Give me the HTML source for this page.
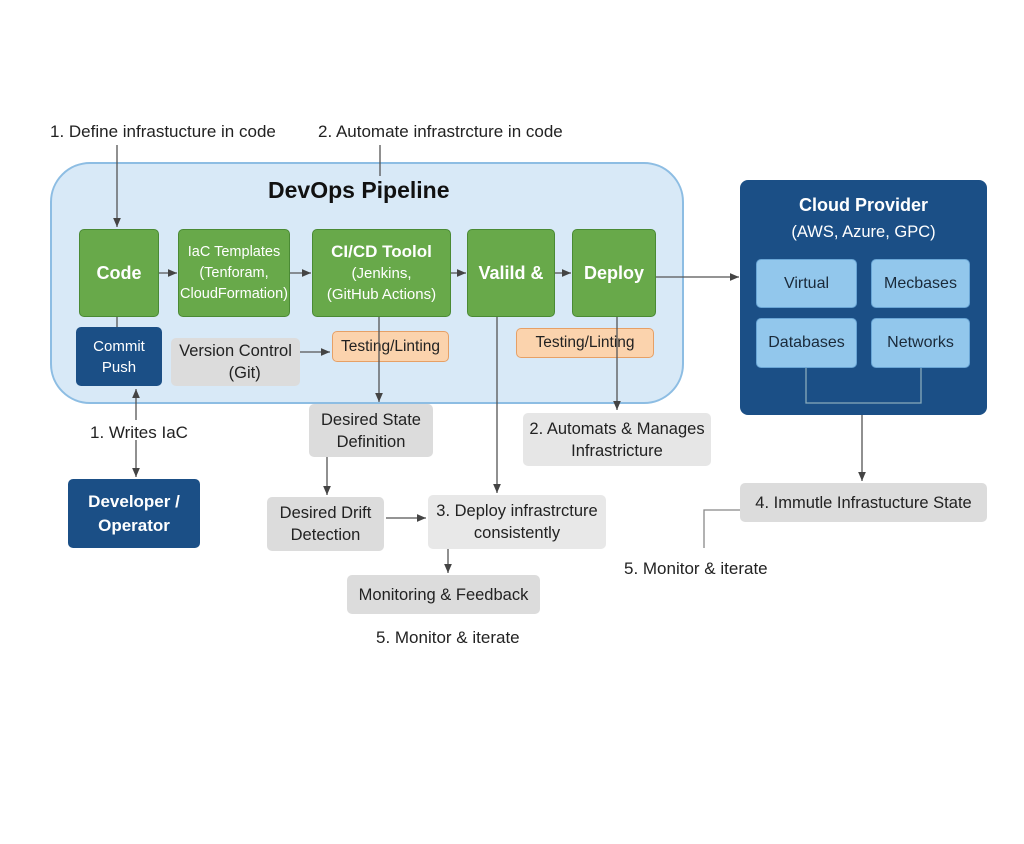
<!DOCTYPE html><html><head><style>
body{margin:0;width:1024px;height:844px;background:#fff;position:relative;font-family:"Liberation Sans",sans-serif;overflow:hidden}
.b{position:absolute;box-sizing:border-box;display:flex;align-items:center;justify-content:center;text-align:center;border-radius:5px}
.g{background:#68a94a;border:1.5px solid #4a8a34;color:#fff;font-size:15px;line-height:21px}
.gb{font-weight:bold;font-size:18px}
.n{background:#1b4f86;color:#fff;font-weight:bold}
.gr{background:#dcdcdc;color:#222;font-size:16.5px;line-height:22px}
.o{background:#fbd3ad;border:1.5px solid #e6a066;color:#222;font-size:15.5px}
.lb{background:#92c7ec;border:1px solid #6aa6d6;color:#1a2a3a;font-size:16px}
.t{position:absolute;font-size:17px;color:#222;white-space:nowrap}
svg{position:absolute;left:0;top:0}
</style></head><body>
<div class="b" style="left:50px;top:162px;width:634px;height:242px;border-radius:40px;background:#d8e9f7;border:2px solid #8dbde3"></div>
<div class="t" style="left:268px;top:177px;font-size:23px;font-weight:bold;color:#111">DevOps Pipeline</div>
<div class="t" style="left:50px;top:122px">1. Define infrastucture in code</div>
<div class="t" style="left:318px;top:122px">2. Automate infrastrcture in code</div>
<div class="b g gb" style="left:79px;top:229px;width:80px;height:88px">Code</div>
<div class="b g" style="left:178px;top:229px;width:112px;height:88px;font-size:14.5px">IaC Templates<br>(Tenforam,<br>CloudFormation)</div>
<div class="b g" style="left:312px;top:229px;width:139px;height:88px"><div><b style="font-size:17px">CI/CD Toolol</b><br>(Jenkins,<br>(GitHub Actions)</div></div>
<div class="b g gb" style="left:467px;top:229px;width:88px;height:88px">Valild &amp;</div>
<div class="b g gb" style="left:572px;top:229px;width:84px;height:88px">Deploy</div>
<div class="b n" style="left:76px;top:327px;width:86px;height:59px;font-weight:normal;font-size:15px;line-height:21px">Commit<br>Push</div>
<div class="b gr" style="left:171px;top:338px;width:129px;height:48px">Version Control<br>&nbsp;&nbsp;&nbsp;&nbsp;(Git)</div>
<div class="b o" style="left:332px;top:331px;width:117px;height:31px">Testing/Linting</div>
<div class="b o" style="left:516px;top:328px;width:138px;height:30px">Testing/Linting</div>
<div class="b gr" style="left:309px;top:404px;width:124px;height:53px">Desired State<br>Definition</div>
<div class="b gr" style="left:523px;top:413px;width:188px;height:53px;background:#e6e6e6">2. Automats &amp; Manages<br>Infrastricture</div>
<div class="b n" style="left:68px;top:479px;width:132px;height:69px;font-size:17px;line-height:24px">Developer /<br>Operator</div>
<div class="b gr" style="left:267px;top:497px;width:117px;height:54px">Desired Drift<br>Detection</div>
<div class="b gr" style="left:428px;top:495px;width:178px;height:54px;background:#e8e8e8">3. Deploy infrastrcture<br>consistently</div>
<div class="b gr" style="left:347px;top:575px;width:193px;height:39px">Monitoring &amp; Feedback</div>
<div class="t" style="left:376px;top:628px">5. Monitor &amp; iterate</div>
<div class="t" style="left:90px;top:423px">1. Writes IaC</div>
<div class="b n" style="left:740px;top:180px;width:247px;height:235px;border-radius:8px;align-items:flex-start;padding-top:12px;font-size:18px;line-height:26px"><div>Cloud Provider<br><span style="font-size:16.5px;font-weight:normal">(AWS, Azure, GPC)</span></div></div>
<div class="b lb" style="left:756px;top:259px;width:101px;height:49px">Virtual</div>
<div class="b lb" style="left:871px;top:259px;width:99px;height:49px">Mecbases</div>
<div class="b lb" style="left:756px;top:318px;width:101px;height:50px">Databases</div>
<div class="b lb" style="left:871px;top:318px;width:99px;height:50px">Networks</div>
<div class="b gr" style="left:740px;top:483px;width:247px;height:39px">4. Immutle Infrastucture State</div>
<div class="t" style="left:624px;top:559px">5. Monitor &amp; iterate</div>
<svg width="1024" height="844"><defs><marker id="a" markerWidth="8" markerHeight="8" refX="7" refY="4" orient="auto"><path d="M0,1L7,4L0,7z" fill="#444"/></marker></defs>
<g stroke="#555" stroke-width="1.3" fill="none">
<path d="M117 145V227" marker-end="url(#a)"/><path d="M380 145V176"/>
<path d="M159 273H177" marker-end="url(#a)"/><path d="M290 273H311" marker-end="url(#a)"/>
<path d="M451 273H466" marker-end="url(#a)"/><path d="M555 273H571" marker-end="url(#a)"/>
<path d="M656 277H739" marker-end="url(#a)"/>
<path d="M117 317V327"/>
<path d="M136 420V389" marker-end="url(#a)"/><path d="M136 440V477" marker-end="url(#a)"/>
<path d="M300 352H330" marker-end="url(#a)"/>
<path d="M379 317V402" marker-end="url(#a)"/>
<path d="M497 317V493" marker-end="url(#a)"/>
<path d="M617 317V410" marker-end="url(#a)"/>
<path d="M327 457V495" marker-end="url(#a)"/>
<path d="M386 518H426" marker-end="url(#a)"/>
<path d="M448 549V573" marker-end="url(#a)"/>
<path d="M806 368V403H921V368" stroke="#8ab"/>
<path d="M862 415V481" marker-end="url(#a)"/>
<path d="M740 510H704V548" stroke="#888"/>
</g></svg>
</body></html>
